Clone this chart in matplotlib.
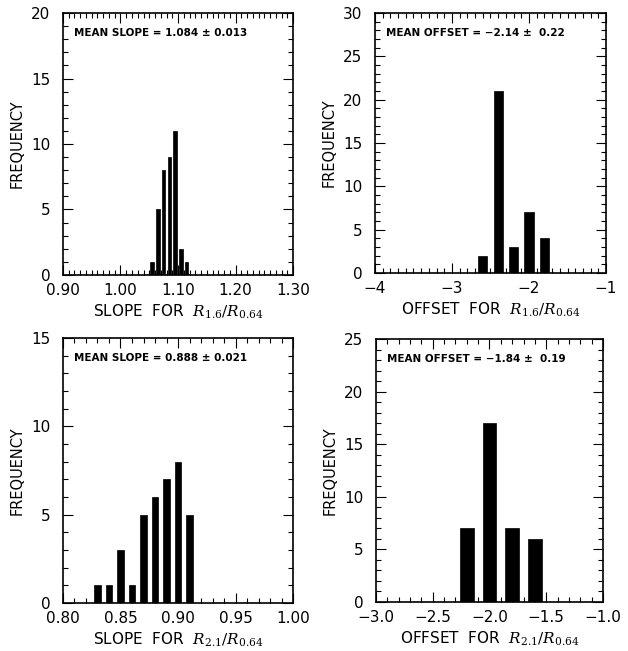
import matplotlib
matplotlib.use("Agg")
import matplotlib.pyplot as plt
from matplotlib.ticker import MultipleLocator, FormatStrFormatter

plt.rcParams['font.family'] = ['DejaVu Sans']
plt.rcParams['mathtext.fontset'] = 'dejavuserif'

# Slope for R1.6/R0.64
slope16_x = [1.055, 1.065, 1.075, 1.085, 1.095, 1.105, 1.115]
slope16_n = [1, 5, 8, 9, 11, 2, 1]
# Offset for R1.6/R0.64
offset16_x = [-2.6, -2.4, -2.2, -2.0, -1.8]
offset16_n = [2, 21, 3, 7, 4]
# Slope for R2.1/R0.64
slope21_x = [0.83, 0.84, 0.85, 0.86, 0.87, 0.88, 0.89, 0.90, 0.91]
slope21_n = [1, 1, 3, 1, 5, 6, 7, 8, 5]
# Offset for R2.1/R0.64
offset21_x = [-2.2, -2.0, -1.8, -1.6]
offset21_n = [7, 17, 7, 6]

notes = ["MEAN SLOPE = 1.084 \u00b1 0.013", "MEAN OFFSET = \u22122.14 \u00b1  0.22",
         "MEAN SLOPE = 0.888 \u00b1 0.021", "MEAN OFFSET = \u22121.84 \u00b1  0.19"]
xlabels = ["SLOPE  FOR  $R_{1.6}/R_{0.64}$", "OFFSET  FOR  $R_{1.6}/R_{0.64}$",
           "SLOPE  FOR  $R_{2.1}/R_{0.64}$", "OFFSET  FOR  $R_{2.1}/R_{0.64}$"]

fig = plt.figure(figsize=(6.28, 6.51), dpi=100)

# [left, bottom, width, height], xlim, ylim, xmajor, xminor, bar width, x fmt
panels = [
    ([0.1003, 0.5776, 0.3663, 0.4024], (0.90, 1.30), (0, 20), 0.1, 0.01, 0.006, '%.2f', slope16_x, slope16_n),
    ([0.5971, 0.5806, 0.3679, 0.3994], (-4, -1), (0, 30), 1, 0.1, 0.12, '%d', offset16_x, offset16_n),
    ([0.1003, 0.0737, 0.3663, 0.4071], (0.80, 1.00), (0, 15), 0.05, 0.01, 0.0056, '%.2f', slope21_x, slope21_n),
    ([0.5987, 0.0753, 0.3615, 0.4037], (-3, -1), (0, 25), 0.5, 0.1, 0.12, '%.1f', offset21_x, offset21_n),
]

for i, (rect, xl, yl, xmaj, xmin, bw, fmt, xs, ns) in enumerate(panels):
    ax = fig.add_axes(rect)
    ax.bar(xs, ns, width=bw, color='black', edgecolor='black', linewidth=0.5)
    ax.set_xlim(xl)
    ax.set_ylim(yl)
    ax.xaxis.set_major_locator(MultipleLocator(xmaj))
    ax.xaxis.set_minor_locator(MultipleLocator(xmin))
    ax.yaxis.set_major_locator(MultipleLocator(5))
    ax.yaxis.set_minor_locator(MultipleLocator(1))
    ax.xaxis.set_major_formatter(FormatStrFormatter(fmt))
    ax.tick_params(which='both', direction='in', top=True, right=True, width=0.8)
    ax.tick_params(which='major', length=7, labelsize=11)
    ax.tick_params(axis='x', which='major', pad=6)
    ax.tick_params(axis='y', which='major', pad=9)
    ax.tick_params(which='minor', length=3.5)
    for s in ax.spines.values():
        s.set_linewidth(1.2)
    # unicode minus for negative tick labels
    ax.set_xticks(ax.get_xticks())
    ax.set_xticklabels([(fmt % v).replace('-', '\u2212') for v in ax.get_xticks()])
    ax.set_xlim(xl)
    ax.set_ylabel("FREQUENCY", fontsize=10.5, labelpad=5)
    ax.set_xlabel(xlabels[i], fontsize=11, labelpad=3)
    ax.text(0.048, 0.925, notes[i], transform=ax.transAxes, fontsize=7.5,
            fontweight='bold', va='center', ha='left')

fig.savefig("out.png", dpi=100)
